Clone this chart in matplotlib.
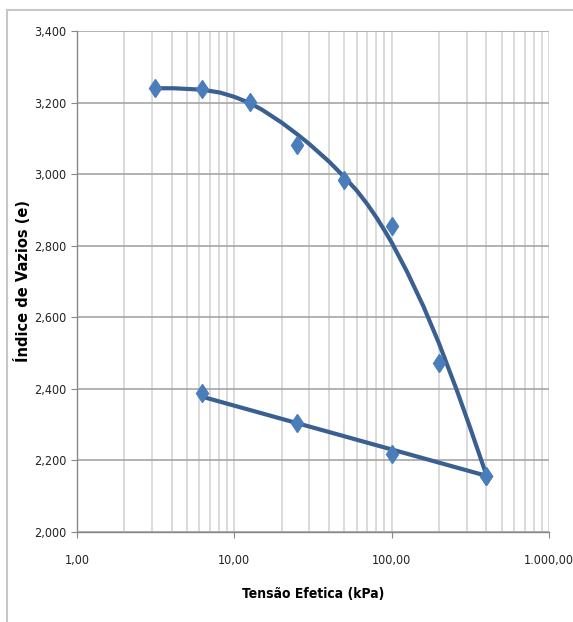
import numpy as np
import matplotlib
matplotlib.use('Agg')
import matplotlib.pyplot as plt
from matplotlib import font_manager
from matplotlib.ticker import FixedLocator, LogLocator, NullFormatter

# loading data (diamonds)
load_stress = [3.125, 6.25, 12.5, 25, 50, 100, 200, 400]
load_e = [3.241, 3.237, 3.202, 3.081, 2.984, 2.855, 2.472, 2.157]

# unloading data (diamonds)
unload_stress = [400, 100, 25, 6.25]
unload_e = [2.157, 2.219, 2.304, 2.388]

# smooth loading curve
curve_stress = [3.125, 4.1, 6.25, 8.1, 10, 12.5, 15, 20, 25, 30, 40, 50, 60,
                70, 80, 90, 100, 125, 159, 200, 259, 315, 400]
curve_e = [3.240, 3.240, 3.236, 3.228, 3.216, 3.199, 3.180, 3.144, 3.112,
           3.084, 3.035, 2.992, 2.954, 2.916, 2.879, 2.843, 2.809, 2.728,
           2.631, 2.527, 2.397, 2.292, 2.159]

# unloading line ends
unload_line_stress = [6.25, 400]
unload_line_e = [2.378, 2.157]

x_ticks = [1, 10, 100, 1000]
x_labels = ['1,00', '10,00', '100,00', '1.000,00']
y_ticks = [2.0, 2.2, 2.4, 2.6, 2.8, 3.0, 3.2, 3.4]
y_labels = ['2,000', '2,200', '2,400', '2,600', '2,800', '3,000', '3,200', '3,400']

line_color = '#3A5F91'
marker_color = '#4A7EBB'


def narrow_font():
    """Pick the narrowest sans font that is installed."""
    fonts = font_manager.fontManager.ttflist
    names = {f.name for f in fonts}
    if 'Liberation Sans Narrow' in names:
        return {'family': 'Liberation Sans Narrow'}
    for f in fonts:
        if f.name == 'DejaVu Sans' and f.stretch in ('condensed', 'semi-condensed'):
            return {'family': 'DejaVu Sans', 'stretch': 'condensed'}
    return {'family': 'Liberation Sans'}


nf = narrow_font()

fig = plt.figure(figsize=(5.73, 6.22), dpi=100)
ax = fig.add_axes([77 / 573, 1 - 532 / 622, 472 / 573, 501 / 622])

# chart border (only left and top show in the crop)
fig.add_artist(plt.Line2D([7 / 573, 7 / 573], [0, 1 - 10 / 622],
                          transform=fig.transFigure, color='#c8c8c8', lw=1.5))
fig.add_artist(plt.Line2D([7 / 573, 1], [1 - 10 / 622, 1 - 10 / 622],
                          transform=fig.transFigure, color='#c8c8c8', lw=1.5))

ax.set_xscale('log')
ax.set_xlim(1, 1000)
ax.set_ylim(2.0, 3.4)

ax.xaxis.set_major_locator(FixedLocator(x_ticks))
ax.xaxis.set_minor_locator(LogLocator(base=10, subs=np.arange(2, 10)))
ax.xaxis.set_minor_formatter(NullFormatter())
ax.set_xticklabels(x_labels)
ax.set_yticks(y_ticks)
ax.set_yticklabels(y_labels)

ax.grid(True, which='both', axis='x', color='#d4d4d4', lw=1.2)
ax.grid(True, which='major', axis='y', color='#a6a6a6', lw=1.2)
ax.set_axisbelow(True)

for side in ['top', 'right']:
    ax.spines[side].set_visible(False)
for side in ['left', 'bottom']:
    ax.spines[side].set_color('#888888')
    ax.spines[side].set_linewidth(1.0)

ax.tick_params(axis='both', which='major', direction='out', length=4,
               color='#888888', labelsize=9, pad=3.5)
ax.tick_params(axis='x', which='major', pad=12)
ax.tick_params(axis='x', which='minor', length=0)
for lab in ax.get_xticklabels() + ax.get_yticklabels():
    lab.set_fontfamily(nf['family'])
    if 'stretch' in nf:
        lab.set_fontstretch(nf['stretch'])
    lab.set_color('#222222')

ax.plot(curve_stress, curve_e, color=line_color, lw=3, solid_capstyle='round',
        solid_joinstyle='round', zorder=3)
ax.plot(unload_line_stress, unload_line_e, color=line_color, lw=3,
        solid_capstyle='round', zorder=3)
ax.plot(load_stress, load_e, linestyle='none', marker='d', ms=9.5,
        color=marker_color, mec=marker_color, zorder=4)
ax.plot(unload_stress, unload_e, linestyle='none', marker='d', ms=9.5,
        color=marker_color, mec=marker_color, zorder=4)

ax.set_xlabel('Tensão Efetica (kPa)', fontweight='bold', fontsize=10, **nf)
ax.xaxis.set_label_coords(0.5, -0.110)
ax.set_ylabel('Índice de Vazios (e)', fontfamily='DejaVu Sans',
              fontweight='bold', fontsize=10.5)
ax.yaxis.set_label_coords(-0.098, 0.5)

fig.savefig('out.png', dpi=100)
